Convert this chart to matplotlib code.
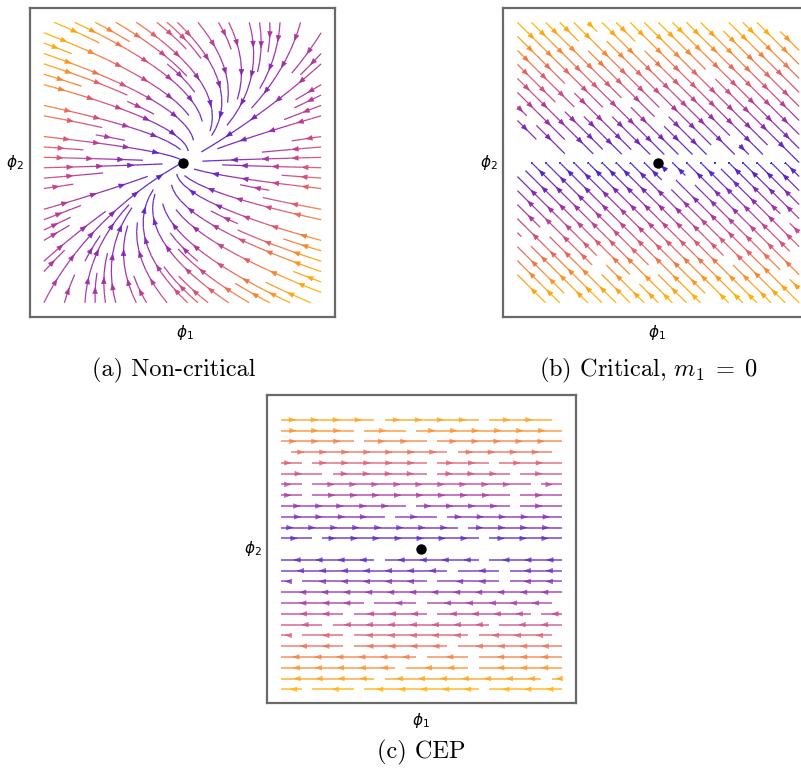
import numpy as np
import matplotlib
matplotlib.use("Agg")
import matplotlib.pyplot as plt
from matplotlib.colors import LinearSegmentedColormap, Normalize
from matplotlib.collections import LineCollection
from matplotlib.patches import FancyArrowPatch

# ---- data: linear flow d(phi)/dt = -M phi for each panel ----
M_noncritical = [[1.5, -1.0], [0.0, 1.0]]
M_critical = [[0.0, -1.0], [0.0, 1.0]]
M_cep = [[0.0, -1.0], [0.0, 0.0]]
phi_range = [-1.0, 1.0]
captions = ["(a) Non-critical", r"(b) Critical, $m_1 \;=\; 0$", "(c) CEP"]
xlabel = r"$\phi_1$"
ylabel = r"$\phi_2$"

cmap = LinearSegmentedColormap.from_list(
    "flow", ["#3f1fd0", "#6a1fc0", "#9a2aa8", "#c8408a", "#e8605c", "#fb8a24", "#ffb000"])

fig = plt.figure(figsize=(8.01, 7.70), dpi=100)
W, H = 801, 770


def add_axes_px(left, top, width, height):
    return fig.add_axes([left / W, 1 - (top + height) / H, width / W, height / H])


def get_trajectories(sp):
    segs = sp.lines.get_segments()
    vals = np.asarray(sp.lines.get_array())
    trajs = []
    for s, v in zip(segs, vals):
        s = np.asarray(s)
        if trajs and np.allclose(s[0], trajs[-1][0][-1]):
            trajs[-1][0].append(s[1])
            trajs[-1][1].append(v)
        else:
            trajs.append(([s[0], s[1]], [v]))
    return [(np.array(p), np.array(v)) for p, v in trajs]


def chop(ax, pts, vs, k, pattern, gap):
    """split a trajectory into pieces (dash-like breaks), returns list of (pts, vals)"""
    if pattern is None:
        return [(pts, vs)]
    disp = ax.transData.transform(pts)
    d = np.hypot(*np.diff(disp, axis=0).T)
    cum = np.concatenate([[0], np.cumsum(d)])
    mid = 0.5 * (cum[:-1] + cum[1:])
    period = sum(pattern) + gap * len(pattern)
    phase = (k * 0.618 * period) % period
    keep = np.ones(len(d), bool)
    pos = -phase
    j = 0
    while pos < cum[-1]:
        pos += pattern[j % len(pattern)]
        keep &= ~((mid >= pos) & (mid < pos + gap))
        pos += gap
        j += 1
    pieces = []
    i = 0
    while i < len(d):
        if keep[i]:
            j0 = i
            while i < len(d) and keep[i]:
                i += 1
            pieces.append((pts[j0:i + 1], vs[j0:i]))
        else:
            i += 1
    return pieces


def draw_piece_arrows(ax, pts, vs, norm, spacing, alpha):
    disp = ax.transData.transform(pts)
    d = np.hypot(*np.diff(disp, axis=0).T)
    cum = np.concatenate([[0], np.cumsum(d)])
    L = cum[-1]
    if L < 10:
        return
    n = max(1, int(L // spacing))
    off = (L - (n - 1) * spacing) / 2
    for kk in range(n):
        t = off + kk * spacing
        i = int(np.clip(np.searchsorted(cum, t) - 1, 0, len(d) - 1))
        if d[i] == 0:
            continue
        f = min((t - cum[i]) / d[i], 0.9)
        P = pts[i] + f * (pts[i + 1] - pts[i])
        Q = pts[i] + (f + 0.1) * (pts[i + 1] - pts[i])
        ax.add_patch(FancyArrowPatch(P, Q, arrowstyle="-|>,head_length=0.55,head_width=0.22",
                                     mutation_scale=7.5, color=cmap(norm(vs[i])),
                                     lw=0.5, shrinkA=0, shrinkB=0, alpha=alpha, zorder=3))


def panel(ax, M, density, vmax, spacing, lw, alpha, pattern=None, gap=8):
    ax.set_xlim(-1.1, 1.1)
    ax.set_ylim(-1.1, 1.1)
    n = 80
    x = np.linspace(phi_range[0], phi_range[1], n)
    y = np.linspace(phi_range[0], phi_range[1], n)
    X, Y = np.meshgrid(x, y)
    M = np.asarray(M)
    U = -(M[0, 0] * X + M[0, 1] * Y)
    V = -(M[1, 0] * X + M[1, 1] * Y)
    speed = np.hypot(U, V)
    norm = Normalize(0, vmax)
    sp = ax.streamplot(X, Y, U, V, density=density, color=speed, cmap=cmap,
                       norm=norm, linewidth=lw, arrowsize=0.7)
    ax.set_xlim(-1.1, 1.1)
    ax.set_ylim(-1.1, 1.1)
    trajs = get_trajectories(sp)
    sp.lines.remove()
    for p in list(ax.patches):
        p.remove()
    all_segs, all_vals = [], []
    for k, (pts, vs) in enumerate(trajs):
        for ppts, pvs in chop(ax, pts, vs, k, pattern, gap):
            if len(ppts) < 2:
                continue
            all_segs.extend(np.stack([ppts[:-1], ppts[1:]], axis=1))
            all_vals.extend(pvs)
            draw_piece_arrows(ax, ppts, pvs, norm, spacing, alpha)
    lc = LineCollection(all_segs, cmap=cmap, norm=norm, linewidths=lw, alpha=alpha,
                        capstyle="butt", zorder=2)
    lc.set_array(np.asarray(all_vals))
    ax.add_collection(lc)
    ax.plot(0, 0, "o", color="black", ms=6.5, zorder=5)
    ax.set_xticks([])
    ax.set_yticks([])
    for s in ax.spines.values():
        s.set_color("#6a6a6a")
        s.set_linewidth(1.6)


axa = add_axes_px(30, 8.3, 305, 308.5)
axb = add_axes_px(503.3, 8.3, 310, 308.5)
axc = add_axes_px(266.7, 395, 309.3, 308.3)

panel(axa, M_noncritical, 0.95, 2.45, 30, 0.9, 0.95)
panel(axb, M_critical, 0.72, 1.4, 25, 0.9, 0.95, pattern=[150, 95, 210, 120], gap=9)
panel(axc, M_cep, 0.9, 1.0, 22, 1.4, 0.65, pattern=[70, 120, 45, 160, 95], gap=9)

lab_kw = dict(fontsize=11, math_fontfamily="dejavusans", ha="center", va="center")
for cx, cy_x, cy_y, lx in [(185, 333, 163, 15), (657, 333, 163, 489), (421, 720, 549, 253)]:
    fig.text(cx / W, 1 - cy_x / H, xlabel, **lab_kw)
    fig.text(lx / W, 1 - cy_y / H, ylabel, **lab_kw)

cap_kw = dict(fontsize=17.5, family="cmr10", math_fontfamily="cm", ha="center", va="center")
fig.text(174 / W, 1 - 370 / H, captions[0], **cap_kw)
fig.text(648 / W, 1 - 370 / H, captions[1], **cap_kw)
fig.text(421 / W, 1 - 752 / H, captions[2], **cap_kw)

fig.savefig("out.png", dpi=100)
